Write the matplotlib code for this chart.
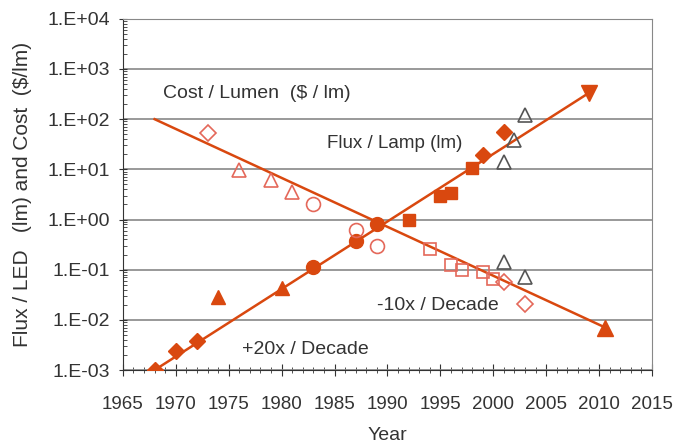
import math
import matplotlib
matplotlib.use('Agg')
import matplotlib.pyplot as plt
from matplotlib.ticker import FuncFormatter, MultipleLocator, LogLocator, NullFormatter

plt.rcParams['font.family'] = ['Liberation Sans', 'DejaVu Sans']

# trend lines (start and end points)
flux_trend_years = [1968, 2009]
flux_trend_vals = [1e-3, 330]
cost_trend_years = [1968, 2010.6]
cost_trend_vals = [100, 7e-3]

# Flux / LED filled markers
flux_diamond_years = [1968, 1970, 1972, 1999, 2001]
flux_diamond_vals = [1e-3, 2.4e-3, 3.8e-3, 19, 56]
flux_tri_years = [1974, 1980]
flux_tri_vals = [2.8e-2, 4.3e-2]
flux_circle_years = [1983, 1987, 1989]
flux_circle_vals = [0.115, 0.37, 0.82]
flux_square_years = [1992, 1995, 1996, 1998]
flux_square_vals = [0.97, 2.9, 3.4, 10.5]

# Flux / Lamp open triangles
lamp_years = [2001, 2002, 2003]
lamp_vals = [14, 38, 120]

# Cost / Lumen open markers
cost_diamond_years = [1973, 2001, 2003]
cost_diamond_vals = [52, 0.058, 0.021]
cost_tri_years = [1976, 1979, 1981]
cost_tri_vals = [9.5, 6.2, 3.6]
cost_circle_years = [1983, 1987, 1989]
cost_circle_vals = [2.0, 0.63, 0.29]
cost_square_years = [1994, 1996, 1997, 1999, 2000]
cost_square_vals = [0.26, 0.125, 0.1, 0.088, 0.066]

# Cost / Lamp open triangles
cost_lamp_years = [2001, 2003]
cost_lamp_vals = [0.145, 0.07]

red = '#D9480F'
light = '#E4685A'
gray = '#555555'
txt = '#333333'

fig = plt.figure(figsize=(6.75, 4.48), dpi=100)
ax = fig.add_axes([0.182, 0.174, 0.784, 0.784])
ax.set_yscale('log')

ax.plot(flux_trend_years, flux_trend_vals, color=red, lw=1.8, zorder=2)
ax.plot(cost_trend_years, cost_trend_vals, color=red, lw=1.8, zorder=2)
ax.plot(flux_trend_years[-1], flux_trend_vals[-1], 'v', color=red, ms=11, zorder=3)
ax.plot(cost_trend_years[-1], cost_trend_vals[-1], '^', color=red, ms=11, zorder=3)

ax.plot(flux_diamond_years, flux_diamond_vals, 'D', color=red, ms=8, ls='none', zorder=3)
ax.plot(flux_tri_years, flux_tri_vals, '^', color=red, ms=10, ls='none', zorder=3)
ax.plot(flux_circle_years, flux_circle_vals, 'o', color=red, ms=10, ls='none', zorder=3)
ax.plot(flux_square_years, flux_square_vals, 's', color=red, ms=9, ls='none', zorder=3)

ax.plot(lamp_years, lamp_vals, '^', mfc='none', mec=gray, mew=1.2, ms=10, ls='none', zorder=3)
ax.plot(cost_lamp_years, cost_lamp_vals, '^', mfc='none', mec=gray, mew=1.2, ms=10, ls='none', zorder=3)

for yrs, vals, m, s in [(cost_diamond_years, cost_diamond_vals, 'D', 8),
                        (cost_tri_years, cost_tri_vals, '^', 10),
                        (cost_circle_years, cost_circle_vals, 'o', 10),
                        (cost_square_years, cost_square_vals, 's', 9)]:
    ax.plot(yrs, vals, m, mfc='none', mec=light, mew=1.2, ms=s, ls='none', zorder=3)

ax.set_xlim(1965, 2015)
ax.set_ylim(1e-3, 1e4)
ax.xaxis.set_major_locator(MultipleLocator(5))
ax.xaxis.set_minor_locator(MultipleLocator(1))
ax.yaxis.set_major_locator(LogLocator(base=10, numticks=20))
ax.yaxis.set_minor_locator(LogLocator(base=10, subs=range(2, 10), numticks=20))
ax.yaxis.set_minor_formatter(NullFormatter())
ax.yaxis.set_major_formatter(FuncFormatter(lambda v, p: '1.E%+03d' % round(math.log10(v))))

ax.grid(axis='y', which='major', color='#888888', lw=1.2)
for s in ax.spines.values():
    s.set_color('#888888')
ax.spines['left'].set_color(txt)
ax.spines['bottom'].set_color(txt)
ax.tick_params(axis='x', which='major', direction='inout', length=9, labelsize=13.5, pad=14)
ax.tick_params(axis='x', which='minor', direction='inout', length=4)
ax.tick_params(axis='y', which='major', direction='inout', length=6, labelsize=14, pad=6)
ax.tick_params(axis='y', which='minor', direction='in', length=3)
ax.tick_params(colors=txt, which='both')

ax.text(1968.8, 330, 'Cost / Lumen  ($ / lm)', fontsize=14, color=txt, va='center')
ax.text(1984.3, 33, 'Flux / Lamp (lm)', fontsize=13.5, color=txt, va='center')
ax.text(1989, 0.019, '-10x / Decade', fontsize=14, color=txt, va='center')
ax.text(1976.3, 2.6e-3, '+20x / Decade', fontsize=14, color=txt, va='center')

ax.set_xlabel('Year', fontsize=14, color=txt, labelpad=10)
fig.text(0.033, 0.566, 'Flux / LED   (lm) and Cost  ($/lm)', rotation=90, fontsize=15,
         color=txt, ha='center', va='center')

fig.savefig('out.png', dpi=100)
